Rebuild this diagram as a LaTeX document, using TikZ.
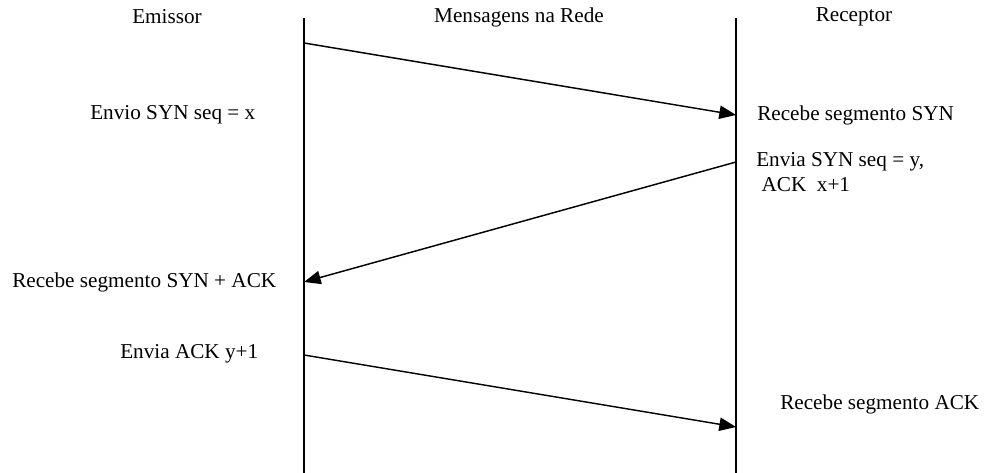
\documentclass[tikz,border=0pt]{standalone}
\usepackage{fontspec}
\setmainfont{Liberation Serif}
\usetikzlibrary{arrows.meta}
\begin{document}
\begin{tikzpicture}[x=0.75pt,y=-0.75pt,
  lifeline/.style={line width=1.1pt},
  msg/.style={line width=1.1pt,-{Triangle[length=12.5pt,width=10pt]}},
  lbl/.style={inner sep=0pt,font=\fontsize{15.9}{19}\selectfont},
  lbll/.style={lbl,anchor=west}]
\useasboundingbox (0,0) rectangle (984,473);

% headings
\node[lbl] (hEm) at (167,17) {Emissor};
\node[lbl] (hRede) at (519,17) {Mensagens na Rede};
\node[lbl] (hRec) at (854,17) {Receptor};

% lifelines
\coordinate (emTop) at (304,18);
\coordinate (emBot) at (304,473);
\coordinate (reTop) at (736,18);
\coordinate (reBot) at (736,473);
\draw[lifeline] (emTop) -- (emBot);
\draw[lifeline] (reTop) -- (reBot);

% message end points on the lifelines
\coordinate (m1a) at (304,43);
\coordinate (m1b) at (736,115);
\coordinate (m2a) at (736,162);
\coordinate (m2b) at (304,282);
\coordinate (m3a) at (304,355);
\coordinate (m3b) at (736,427);

\draw[msg] (m1a) -- (m1b);
\draw[msg] (m2a) -- (m2b);
\draw[msg] (m3a) -- (m3b);

% event labels
\node[lbll] (t1) at (90,115) {Envio SYN seq = x};
\node[lbll] (t2) at (757,115) {Recebe segmento SYN};
\node[lbll] (t3) at (756,162) {Envia SYN seq = y,};
\node[lbll] (t4) at (756,185) {\ ACK\ \ x+1};
\node[lbll] (t5) at (12,282) {Recebe segmento SYN + ACK};
\node[lbll] (t6) at (120,354) {Envia ACK y+1};
\node[lbll] (t7) at (780,404) {Recebe segmento ACK};
\end{tikzpicture}
\end{document}
